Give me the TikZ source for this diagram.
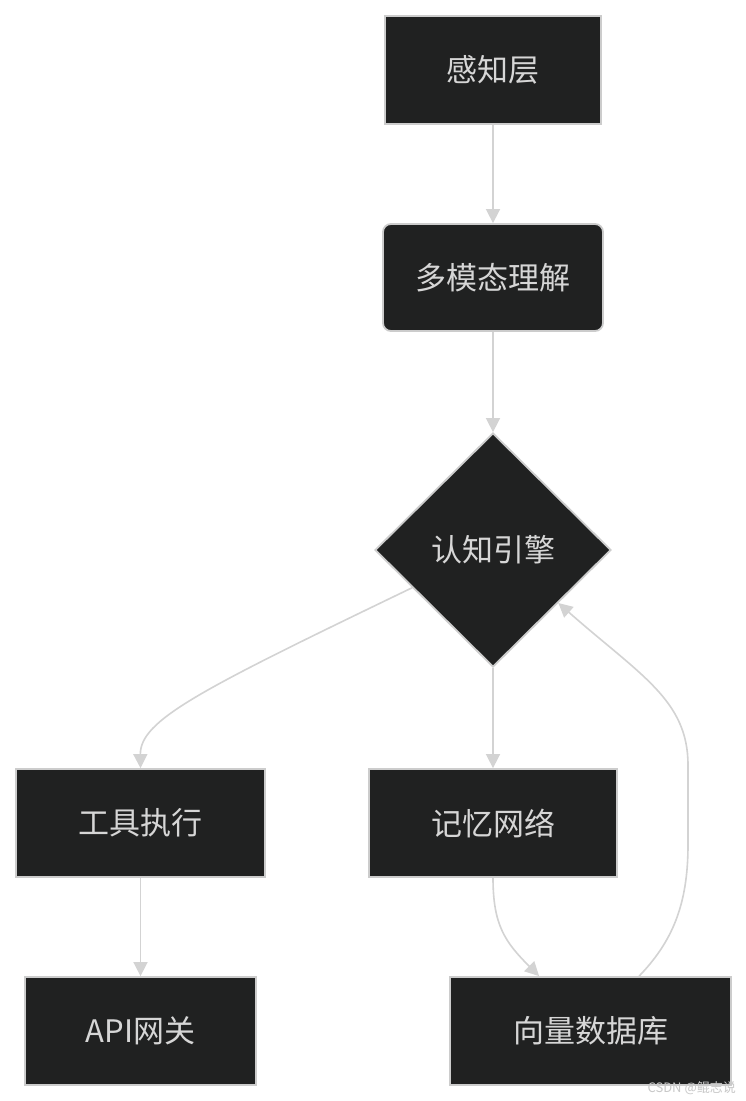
\documentclass[tikz,border=0pt]{standalone}
\usepackage{fontspec}
\newfontfamily\cjk{Noto Sans CJK SC}
\usetikzlibrary{shapes.geometric,arrows.meta,calc}
\definecolor{nodefill}{HTML}{202121}
\definecolor{nodeline}{HTML}{CCCCCC}
\definecolor{nodetext}{HTML}{D6D6D6}
\definecolor{edgecol}{HTML}{D3D3D3}
\definecolor{wmcol}{HTML}{C8C8C8}
\tikzset{
  x=1pt, y=-1pt,
  box/.style={draw=nodeline, line width=1.8pt, fill=nodefill, text=nodetext,
    inner sep=0pt, font=\cjk\fontsize{31}{36}\selectfont},
  rbox/.style={box, rounded corners=8pt},
  dia/.style={box, diamond, aspect=1},
  arr/.style={draw=edgecol, line width=1.6pt,
    -{Triangle[length=14pt,width=14pt]}}
}
\begin{document}
\begin{tikzpicture}
\useasboundingbox[fill=white] (0,0) rectangle (746,1101);
\node[box, minimum width=216pt, minimum height=108pt] (p) at (493,70) {感知层};
\node[rbox, minimum width=220pt, minimum height=107pt] (m) at (493,277.5) {多模态理解};
\node[dia, minimum width=236pt, minimum height=234pt] (c) at (493,550) {认知引擎};
\node[box, minimum width=249pt, minimum height=108pt] (t) at (140.5,823) {工具执行};
\node[box, minimum width=248pt, minimum height=108pt] (mem) at (493,823) {记忆网络};
\node[box, minimum width=231pt, minimum height=108pt] (api) at (140.5,1031) {API网关};
\node[box, minimum width=281pt, minimum height=108pt] (v) at (590.5,1031) {向量数据库};

\coordinate (cl) at ($(c.west)!0.32!(c.south)$);
\coordinate (cr) at ($(c.east)!0.45!(c.south)$);
\coordinate (vin) at ($(v.north west)+(90,0)$);
\coordinate (vout) at ($(v.north west)+(190,0)$);

\draw[arr] (p.south) -- (m.north);
\draw[arr] (m.south) -- (c.north);
\draw[arr] (cl) .. controls (200,690) and (140,720) .. (t.north);
\draw[arr] (c.south) -- (mem.north);
\draw[arr] (t.south) -- (api.north);
\draw[arr] (mem.south) .. controls (493,925) and (505,942) .. (vin);
\draw[arr] (vout) .. controls (672,942) and (688,905) .. (688,845)
  -- (688,765) .. controls (688,700) and (640,675) .. (cr);

\node[text=wmcol, font=\cjk\fontsize{13}{15}\selectfont, anchor=east, inner sep=0pt] (wm) at (736,1088) {CSDN @鲲志说};
\end{tikzpicture}
\end{document}
